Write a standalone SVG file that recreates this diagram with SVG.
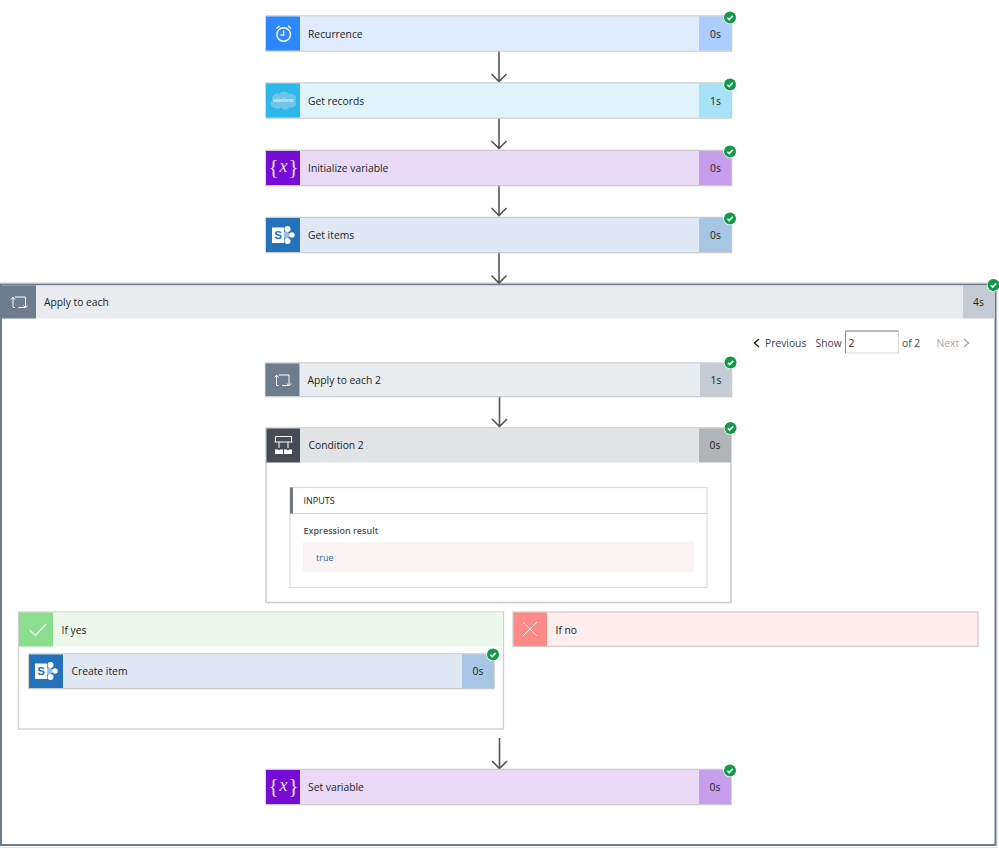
<svg xmlns="http://www.w3.org/2000/svg" width="999" height="849" viewBox="0 0 999 849">
<style>
text{font-family:"Open Sans","Noto Sans","Liberation Sans",sans-serif;font-size:10.3px;fill:#1e1e1e}
.d{text-anchor:middle}
.p{fill:#444}
.b{fill:none;stroke:#c9cbce;stroke-width:1.5}
.a{fill:none;stroke:#555;stroke-width:1.6}
.w{fill:none;stroke:#fff;stroke-width:1}
.f{fill:#fff}
.x{font-family:"Liberation Serif",serif;fill:#fff;text-anchor:middle;font-size:20px}
</style>
<defs>
<g id="ok"><circle r="6.7" fill="#fff"/><circle r="6" fill="#129a4a"/><path d="M-2.600 0.200L-0.800 2L2.700-1.600" fill="none" stroke="#fff" stroke-width="1.600"/></g>
<g id="loop"><path class="w" d="M-3-5H7.500V5.500H0.500M-7-2.500L-5-4.800L-3-2.500M-5-4.800V5.500H-3M5.500 3.500L7.500 5.800L9.500 3.500"/></g>
<g id="sp"><path class="f" d="M-11-7.500H1V8H-11Z"/><circle class="f" cx="4.500" cy="-6" r="3"/><circle class="f" cx="9" cy="0" r="2.700"/><circle class="f" cx="4.500" cy="6" r="3"/><path d="M1-3.500H4L7-1V1L4 3.500H1Z" fill="#fff" opacity=".55"/><text class="x" x="-5" y="4.300" style="fill:#2372ba;font-weight:bold;font-family:'Liberation Sans',sans-serif;font-size:11.500px">S</text></g>
<g id="vx" opacity=".88"><text class="x" x="-10" y="5.800" style="font-size:21px">{</text><text class="x" x="0" y="4" style="font-style:italic;font-size:18px">x</text><text class="x" x="10" y="5.800" style="font-size:21px">}</text></g>
</defs>
<rect width="999" height="849" fill="#fff"/>
<g id="apply-to-each">
<rect x="0.500" y="282.500" width="996.500" height="565" fill="none" stroke="#e4e5e7" stroke-width="1"/>
<rect x="1" y="284.500" width="994.500" height="560.500" fill="#fff" stroke="#6f7c8b" stroke-width="2"/>
<rect x="2" y="285.500" width="34" height="33" fill="#6d7d8e"/>
<rect x="36" y="285.500" width="928" height="33" fill="#e8ecef"/>
<rect x="963" y="285.500" width="32" height="33" fill="#c4cbd2"/>
<use href="#loop" x="18" y="302"/>
<text x="44" y="305.500">Apply to each</text>
<text class="d" x="978.500" y="305.500">4s</text>
<use href="#ok" x="993.500" y="285"/>
</g>
<g id="connectors">
<path class="a" d="M499 51V81.500M491.500 74L499 81.500L506.500 74"/>
<path class="a" d="M499 118V148.500M491.500 141L499 148.500L506.500 141"/>
<path class="a" d="M499 185V215.500M491.500 208L499 215.500L506.500 208"/>
<path class="a" d="M499 252V283M491.500 275.500L499 283L506.500 275.500"/>
<path class="a" d="M499.500 396V426.500M492 419L499.500 426.500L507 419"/>
<path class="a" d="M499.500 738V768.500M492 761L499.500 768.500L507 761"/>
</g>
<g id="pager">
<path d="M759 339L754.500 343L759 347" fill="none" stroke="#222" stroke-width="1.500"/>
<text class="p" x="765" y="346.500">Previous</text>
<text class="p" x="815.500" y="346.500">Show</text>
<rect x="845.500" y="331" width="53" height="22" fill="#fff" stroke="#d8d8d8"/>
<path d="M845.500 353V331H898.500" fill="none" stroke="#8a8a8a" stroke-width="1"/>
<text x="848.500" y="346.500">2</text>
<text class="p" x="902" y="346.500">of 2</text>
<text x="936.500" y="346.500" style="fill:#aaa">Next</text>
<path d="M964 339L968.500 343L964 347" fill="none" stroke="#aaa" stroke-width="1.500"/>
</g>
<g id="recurrence">
<rect class="b" x="266" y="16" width="465.500" height="35"/>
<rect x="300" y="16.500" width="399" height="34" fill="#e0ebfd"/><rect x="699" y="16.500" width="32.500" height="34" fill="#aecdff"/><rect x="266" y="16.500" width="34" height="34" fill="#2d87ff"/>
<circle cx="283.700" cy="34.500" r="6.800" fill="none" stroke="#fff" stroke-width="1.500"/><path d="M283.700 30.500V35H280.500M276.500 28.500L279.500 25.800M288 25.800L291 28.500" fill="none" stroke="#fff" stroke-width="1.300"/>
<text x="308" y="37.500">Recurrence</text><text class="d" x="715.500" y="37.500">0s</text><use href="#ok" x="730" y="17.500"/>
</g>
<g id="get-records">
<rect class="b" x="266" y="83" width="465.500" height="35"/>
<rect x="300" y="83.500" width="399" height="34" fill="#dff4fb"/><rect x="699" y="83.500" width="32.500" height="34" fill="#a8e2f6"/><rect x="266" y="83.500" width="34" height="34" fill="#2db7ea"/>
<path d="M275 108C270 108 269.500 102 272.500 100C270.500 95 276 91.500 279.500 94C282 90.500 287 91 289 94C294 92.500 297.500 97 295.500 101C298 105 293 109 290 107C288 110.500 283 110.500 281 107.500C279 109 276.500 109 275 108Z" fill="#6fc4ec"/>
<text x="283" y="101.500" text-anchor="middle" style="font-size:4.500px;fill:#fff;font-family:'Liberation Sans',sans-serif">salesforce</text>
<text x="308" y="104.500">Get records</text><text class="d" x="715.500" y="104.500">1s</text><use href="#ok" x="730" y="84.500"/>
</g>
<g id="initialize-variable">
<rect class="b" x="266" y="150.500" width="465.500" height="35"/>
<rect x="300" y="151" width="399" height="34" fill="#e9daf7"/><rect x="699" y="151" width="32.500" height="34" fill="#c79eec"/><rect x="266" y="151" width="34" height="34" fill="#770bd6"/>
<use href="#vx" x="283.500" y="168"/>
<text x="308" y="172">Initialize variable</text><text class="d" x="715.500" y="172">0s</text><use href="#ok" x="730" y="151.500"/>
</g>
<g id="get-items">
<rect class="b" x="266" y="217.500" width="465.500" height="35"/>
<rect x="300" y="218" width="399" height="34" fill="#dfe8f3"/><rect x="699" y="218" width="32.500" height="34" fill="#a7c6e3"/><rect x="266" y="218" width="34" height="34" fill="#2372ba"/>
<use href="#sp" x="283" y="235"/>
<text x="308" y="239">Get items</text><text class="d" x="715.500" y="239">0s</text><use href="#ok" x="730" y="218.500"/>
</g>
<g id="apply-to-each-2">
<rect class="b" x="265.500" y="363" width="466" height="33.500"/>
<rect x="299.500" y="363.500" width="400.500" height="32.500" fill="#e8ecef"/><rect x="700" y="363.500" width="31.500" height="32.500" fill="#c4cbd2"/><rect x="265.500" y="363.500" width="34" height="32.500" fill="#6d7d8e"/>
<use href="#loop" x="281.500" y="380"/>
<text x="307.500" y="384">Apply to each 2</text><text class="d" x="716" y="384">1s</text><use href="#ok" x="730.500" y="362.500"/>
</g>
<g id="condition-2">
<rect class="b" x="266" y="428" width="465" height="174.500" style="fill:#fff"/>
<rect x="300" y="428.500" width="399" height="34" fill="#e2e3e5"/><rect x="699" y="428.500" width="32" height="34" fill="#b2b5b8"/><rect x="266.500" y="428.500" width="33.500" height="34" fill="#464c55"/>
<path class="w" d="M275.500 442V436.500H291.500V442M274.500 442H292.500M279 442V448M288 442V448"/><path class="f" d="M275 449.500H278L279 450.500L280 449.500H283V454H275ZM284 449.500H287L288 450.500L289 449.500H292V454H284Z"/>
<text x="308.500" y="448.500">Condition 2</text><text class="d" x="715" y="448.500">0s</text><use href="#ok" x="730.500" y="428"/>
<rect x="290" y="487.500" width="417" height="100" fill="#fff" stroke="#dcdcdc" stroke-width="1.200"/>
<path d="M290 513.500H707" stroke="#d4d4d4" stroke-width="1"/><rect x="290" y="487.500" width="3" height="26" fill="#6f7780"/>
<text x="303.500" y="504" style="font-size:9px;font-weight:500">INPUTS</text>
<text x="303.500" y="533.500" style="font-size:9px;font-weight:600;fill:#555">Expression result</text>
<rect x="303" y="542" width="391" height="30" fill="#faf4f4"/>
<text x="316" y="560.500" style="font-size:9px;fill:#3a5fb5">true</text>
</g>
<g id="if-yes">
<rect x="18.500" y="612" width="485" height="117" fill="#fff" stroke="#cfcfcf" stroke-width="1.300"/>
<rect x="53" y="612.500" width="450" height="34" fill="#edf8ec"/><rect x="19" y="612.500" width="34" height="34" fill="#8ade8e"/>
<path d="M29.500 630L35.500 635.500L46 624" fill="none" stroke="#fff" stroke-width="1.200"/>
<text x="61.500" y="633.500">If yes</text>
</g>
<g id="create-item">
<rect class="b" x="29" y="654" width="465" height="34.500"/>
<rect x="63" y="654.500" width="399" height="33.500" fill="#dfe8f3"/><rect x="462" y="654.500" width="32" height="33.500" fill="#a7c6e3"/><rect x="29" y="654.500" width="34" height="33.500" fill="#2372ba"/>
<use href="#sp" x="46" y="671"/>
<text x="71.500" y="675">Create item</text><text class="d" x="478" y="675">0s</text><use href="#ok" x="493" y="654.500"/>
</g>
<g id="if-no">
<rect x="513" y="612" width="465" height="34.500" fill="#feeded" stroke="#d2cdcd" stroke-width="1.300"/>
<rect x="513.500" y="612.500" width="33.500" height="33.500" fill="#fc8a87"/>
<path d="M523 622L537 636M537 622L523 636" stroke="#fff" stroke-width="1" fill="none"/>
<text x="555.500" y="633.500">If no</text>
</g>
<g id="set-variable">
<rect class="b" x="266" y="769.500" width="465" height="35"/>
<rect x="300" y="770" width="399" height="34" fill="#e9daf7"/><rect x="699" y="770" width="32" height="34" fill="#c79eec"/><rect x="266" y="770" width="34" height="34" fill="#770bd6"/>
<use href="#vx" x="283.500" y="787"/>
<text x="308" y="791">Set variable</text><text class="d" x="715" y="791">0s</text><use href="#ok" x="730" y="770.500"/>
</g>
</svg>
